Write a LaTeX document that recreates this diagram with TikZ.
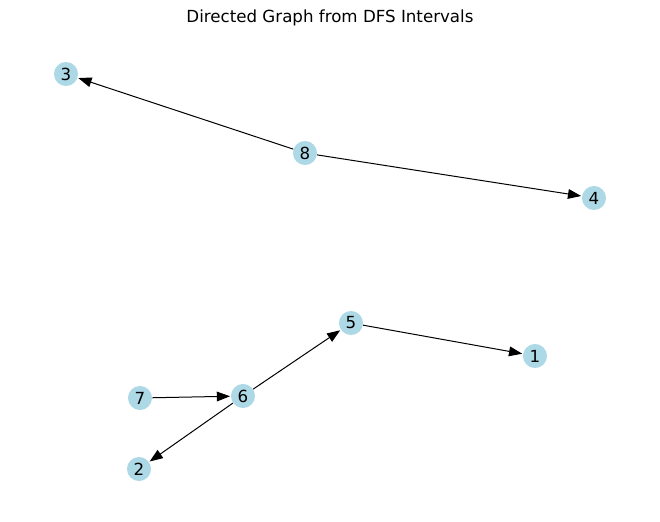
\documentclass[tikz,border=0pt]{standalone}
\usepackage{fontspec}
\setmainfont{DejaVu Sans}
\usetikzlibrary{arrows.meta}
\definecolor{nodeblue}{RGB}{173,216,230}
\begin{document}
\begin{tikzpicture}[x=.72pt, y=-.72pt, >={Triangle[length=9.5pt, width=7pt]},
    vert/.style={circle, fill=nodeblue, minimum size=17.3pt, inner sep=0pt, font=\fontsize{12pt}{14pt}\selectfont},
    edge/.style={->, line width=.72pt, shorten >=.5pt}]
\useasboundingbox (0,0) rectangle (660,522);
\node[font=\fontsize{12pt}{14pt}\selectfont] (title) at (330,18){Directed Graph from DFS Intervals};
\node[vert] (n3) at (66,74){3};
\node[vert] (n8) at (305,153){8};
\node[vert] (n4) at (594,198){4};
\node[vert] (n5) at (351,323){5};
\node[vert] (n1) at (535,356){1};
\node[vert] (n7) at (140,398){7};
\node[vert] (n6) at (243,396){6};
\node[vert] (n2) at (139,469){2};
\draw[edge] (n8)--(n3);
\draw[edge] (n8)--(n4);
\draw[edge] (n5)--(n1);
\draw[edge] (n7)--(n6);
\draw[edge] (n6)--(n5);
\draw[edge] (n6)--(n2);
\end{tikzpicture}
\end{document}
